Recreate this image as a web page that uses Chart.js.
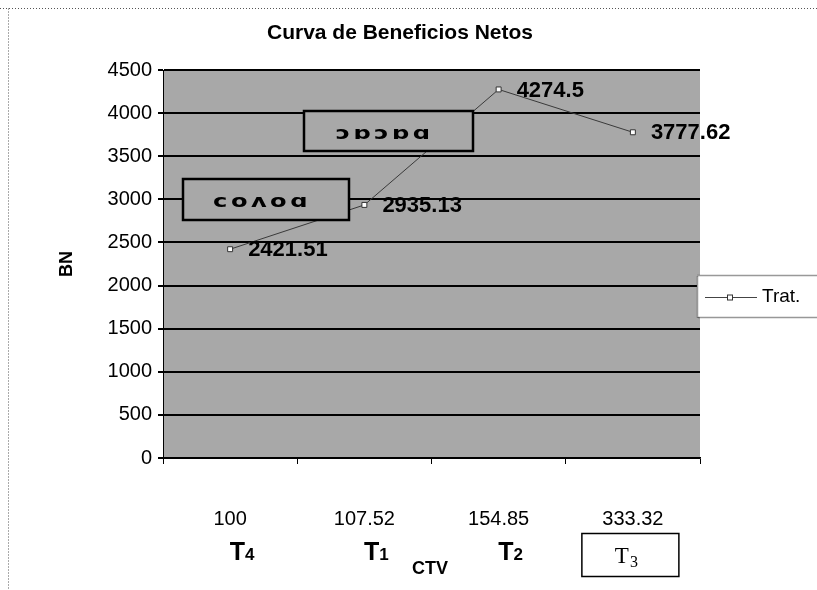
<!DOCTYPE html>
<html>
<head>
<meta charset="utf-8">
<script src="https://cdn.jsdelivr.net/npm/chart.js@4.4.1/dist/chart.umd.min.js"></script>
<style>
  html, body { margin: 0; padding: 0; background: #ffffff; }
  #wrap { width: 817px; height: 590px; position: relative; }
</style>
</head>
<body>
<div id="wrap"><canvas id="chart" width="817" height="590"></canvas></div>
<script>
// Costo total variable (CTV) per treatment and the net benefit (BN) it yields
const costLabels = ['100', '107.52', '154.85', '333.32'];
const treatmentNames = ['T4', 'T1', 'T2', 'T3'];
const netBenefit = [2421.51, 2935.13, 4274.5, 3777.62];
const yTickValues = [0, 500, 1000, 1500, 2000, 2500, 3000, 3500, 4000, 4500];
const seriesName = 'Trat.';
const chartTitle = 'Curva de Beneficios Netos';
const xTitle = 'CTV';
const yTitle = 'BN';
const noteTexts = ['coʌoɑ', 'ɔɒɔɒɑ'];

const PLOT_GREY = '#a8a8a8';
const SANS = '"Liberation Sans", Arial, sans-serif';
const SERIF = '"Liberation Serif", "Times New Roman", serif';

// Grey plot background plus the outer dotted frame of the figure
const backgroundPlugin = {
  id: 'plotBackground',
  beforeDraw(chart) {
    const { ctx, chartArea: a } = chart;
    ctx.save();
    ctx.fillStyle = '#ffffff';
    ctx.fillRect(0, 0, chart.width, chart.height);
    ctx.fillStyle = PLOT_GREY;
    ctx.fillRect(a.left, a.top, a.right - a.left, a.bottom - a.top);
    ctx.strokeStyle = '#555';
    ctx.lineWidth = 1;
    ctx.setLineDash([1, 2]);
    ctx.beginPath();
    ctx.moveTo(0, 8.5); ctx.lineTo(chart.width, 8.5);
    ctx.moveTo(8.5, 8.5); ctx.lineTo(8.5, chart.height);
    ctx.stroke();
    ctx.restore();
  }
};

// Boxed notes, value labels, treatment names, titles and the legend
const decorPlugin = {
  id: 'decor',
  afterDatasetsDraw(chart) {
    const { ctx, chartArea: a, scales } = chart;
    const xs = scales.x, ys = scales.y;
    ctx.save();

    // boxed notes over the curve
    const boxes = [
      { x: a.left + 20, y: a.top + 109, w: 166, h: 41 },
      { x: a.left + 141, y: a.top + 41, w: 169, h: 40 }
    ];
    boxes.forEach((b, i) => {
      ctx.fillStyle = PLOT_GREY;
      ctx.fillRect(b.x, b.y, b.w, b.h);
      ctx.strokeStyle = '#000';
      ctx.lineWidth = 2.5;
      ctx.strokeRect(b.x, b.y, b.w, b.h);
      ctx.save();
      ctx.translate(b.x + b.w / 2 - 4, b.y + b.h * 0.58);
      ctx.scale(1.15, 0.8);
      ctx.fillStyle = '#000';
      ctx.font = 'bold 21px "DejaVu Sans", ' + SANS;
      ctx.letterSpacing = '3px';
      ctx.textAlign = 'center';
      ctx.textBaseline = 'middle';
      ctx.fillText(noteTexts[i], 0, 0);
      ctx.restore();
    });

    // value labels beside each point
    ctx.fillStyle = '#000';
    ctx.font = 'bold 22px ' + SANS;
    ctx.textAlign = 'left';
    ctx.textBaseline = 'middle';
    netBenefit.forEach((v, i) => {
      const px = xs.getPixelForValue(i);
      const py = ys.getPixelForValue(v);
      ctx.fillText(String(v), px + 18, py + 1);
    });

    // treatment names under the cost labels; the last one sits in its own box
    treatmentNames.forEach((name, i) => {
      const cx = xs.getPixelForValue(i);
      const base = name.charAt(0), sub = name.slice(1);
      ctx.textAlign = 'left';
      ctx.textBaseline = 'alphabetic';
      if (i === treatmentNames.length - 1) {
        ctx.strokeStyle = '#000';
        ctx.lineWidth = 1.5;
        ctx.strokeRect(cx - 51, 533.5, 97, 43);
        ctx.font = '23px ' + SERIF;
        const w1 = ctx.measureText(base).width;
        ctx.font = '16px ' + SERIF;
        const w2 = ctx.measureText(sub).width;
        const sx = cx - 7 - (w1 + w2) / 2;
        ctx.font = '23px ' + SERIF;
        ctx.fillText(base, sx, 563);
        ctx.font = '16px ' + SERIF;
        ctx.fillText(sub, sx + w1 + 1, 567);
      } else {
        ctx.font = 'bold 25px ' + SANS;
        const w1 = ctx.measureText(base).width;
        ctx.font = 'bold 17px ' + SANS;
        const w2 = ctx.measureText(sub).width;
        const sx = cx + 12 - (w1 + w2) / 2;
        ctx.font = 'bold 25px ' + SANS;
        ctx.fillText(base, sx, 560);
        ctx.font = 'bold 17px ' + SANS;
        ctx.fillText(sub, sx + w1, 560);
      }
    });

    // chart title and axis titles
    ctx.textAlign = 'center';
    ctx.textBaseline = 'middle';
    ctx.font = 'bold 21px ' + SANS;
    ctx.fillText(chartTitle, 400, 33);
    ctx.font = 'bold 18px ' + SANS;
    ctx.fillText(xTitle, 430, 569);
    ctx.save();
    ctx.translate(67, (a.top + a.bottom) / 2);
    ctx.rotate(-Math.PI / 2);
    ctx.fillText(yTitle, 0, 0);
    ctx.restore();

    // legend box, partly running off the right edge
    const lx = 697, ly = 275, lw = 140, lh = 42;
    ctx.fillStyle = '#ffffff';
    ctx.fillRect(lx, ly, lw, lh);
    ctx.strokeStyle = '#333';
    ctx.lineWidth = 1.5;
    ctx.setLineDash([1, 1]);
    ctx.strokeRect(lx + 0.5, ly + 0.5, lw, lh);
    ctx.setLineDash([]);
    const my = ly + lh / 2 + 1;
    ctx.strokeStyle = '#444';
    ctx.lineWidth = 1;
    ctx.beginPath();
    ctx.moveTo(705, my + 0.5);
    ctx.lineTo(757, my + 0.5);
    ctx.stroke();
    ctx.fillStyle = '#fff';
    ctx.fillRect(727, my - 2.5, 6, 6);
    ctx.strokeStyle = '#333';
    ctx.strokeRect(727.5, my - 2, 5, 5);
    ctx.fillStyle = '#000';
    ctx.font = '19px ' + SANS;
    ctx.textAlign = 'left';
    ctx.fillText(seriesName, 762, my);

    ctx.restore();
  }
};

new Chart(document.getElementById('chart'), {
  type: 'line',
  data: {
    labels: costLabels,
    datasets: [{
      label: seriesName,
      data: netBenefit,
      borderColor: '#3a3a3a',
      borderWidth: 1,
      pointStyle: 'rect',
      pointRadius: 3.5,
      pointBackgroundColor: '#ffffff',
      pointBorderColor: '#333333',
      pointBorderWidth: 1,
      tension: 0
    }]
  },
  options: {
    responsive: false,
    animation: false,
    events: [],
    layout: { padding: { left: 0, top: 70, right: 117, bottom: 0 } },
    plugins: {
      legend: { display: false },
      title: { display: false },
      tooltip: { enabled: false }
    },
    scales: {
      x: {
        type: 'category',
        offset: true,
        grid: {
          offset: true,
          drawOnChartArea: false,
          color: '#000',
          tickLength: 6,
          tickColor: '#000'
        },
        border: { color: '#000', width: 1.5 },
        ticks: {
          color: '#000',
          font: { family: SANS, size: 20 },
          padding: 43,
          maxRotation: 0
        },
        afterFit(scale) { scale.height = 132; }
      },
      y: {
        min: 0,
        max: 4500,
        afterBuildTicks(scale) { scale.ticks = yTickValues.map(v => ({ value: v })); },
        grid: {
          color: '#000',
          lineWidth: 2,
          tickLength: 5,
          tickColor: '#000'
        },
        border: { color: '#000', width: 1 },
        ticks: {
          color: '#000',
          font: { family: SANS, size: 20 },
          padding: 6,
          callback: v => String(v)
        },
        afterFit(scale) { scale.width = 163; }
      }
    }
  },
  plugins: [backgroundPlugin, decorPlugin]
});
</script>
</body>
</html>
